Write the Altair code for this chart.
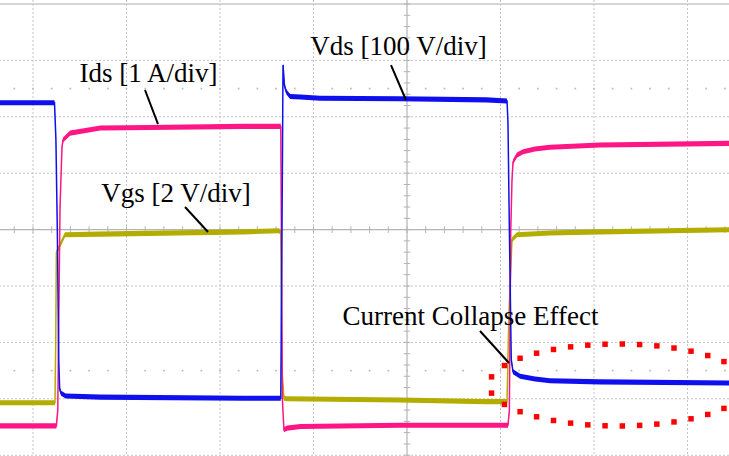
import altair as alt
import pandas as pd
import numpy as np

# ---- time axis in oscilloscope divisions, amplitude in divisions ----
# Vds [100 V/div]  (blue)
t_vds = [-4.40, -3.77, -3.755, -3.74, -3.725, -3.715, -3.70, -3.65, -3.28, -1.75, -1.35,
         -1.335, -1.326, -1.31, -1.29, -1.25, -1.14, -0.93, -0.08, 0.85, 1.07,
         1.08, 1.095, 1.115, 1.134, 1.21, 1.37, 1.53, 2.06, 3.50]
v_vds = [2.25, 2.25, 1.6, 0.0, -2.3, -2.82, -2.90, -2.95, -2.97, -2.99, -2.99,
         0.5, 2.92, 2.55, 2.44, 2.36, 2.35, 2.33, 2.32, 2.30, 2.28,
         1.9, 0.0, -2.30, -2.52, -2.60, -2.65, -2.68, -2.70, -2.72]

# Ids [1 A/div]  (pink)
t_ids = [-4.40, -3.75, -3.735, -3.711, -3.690, -3.679, -3.604, -3.39, -3.28, -2.75, -1.75,
         -1.35, -1.333, -1.316, -1.283, -1.14, -0.08, 1.08, 1.095, 1.11, 1.123,
         1.134, 1.176, 1.241, 1.369, 1.529, 2.064, 3.50]
v_ids = [-3.48, -3.48, -3.20, 0.40, 1.46, 1.59, 1.71, 1.77, 1.80, 1.81, 1.83,
         1.83, -3.0, -3.55, -3.52, -3.49, -3.47, -3.47, -3.2, 0.0, 0.88,
         1.20, 1.32, 1.38, 1.43, 1.46, 1.50, 1.53]

# Vgs [2 V/div]  (olive)
t_vgs = [-4.40, -3.765, -3.757, -3.750, -3.701, -3.658, -3.283, -1.75, -1.37, -1.35,
         -1.337, -1.316, -1.29, -0.08, 0.85, 1.07, 1.09, 1.123, 1.176, 1.529, 2.064, 3.50]
v_vgs = [-3.07, -3.07, -2.00, -0.41, -0.24, -0.09, -0.08, -0.04, -0.02, -0.05,
         -2.50, -2.99, -3.00, -3.02, -3.05, -3.05, -1.50, -0.18, -0.09, -0.06, -0.04, 0.00]

series_names = ["Vgs", "Ids", "Vds"]
series_colors = ["#b3ad00", "#ff1685", "#1010ee"]

# grid / axes
grid_t = [-4, -3, -2, -1, 1, 2, 3]
grid_v = [-4, -3, -2, -1, 1, 2, 3]
border_v = [4]
minor_step = 0.2
marker_rows = [-2.5, 2.5]

# annotations
labels = ["Ids [1 A/div]", "Vds [100 V/div]", "Vgs [2 V/div]", "Current Collapse Effect"]
label_t = [-2.765, -0.091, -2.471, 0.679]
label_v = [2.617, 3.096, 0.489, -1.691]
ptr_t1 = [-2.802, -0.171, -2.374, 0.781]
ptr_v1 = [2.475, 2.918, 0.401, -1.798]
ptr_t2 = [-2.663, -0.011, -2.128, 1.091]
ptr_v2 = [1.872, 2.298, -0.043, -2.365]

ell_center_t, ell_center_v = 2.257, -2.755
ell_rx_t, ell_ry_v = 1.380, 0.727
PX_T, PX_V = 93.5, 56.4  # pixels per division (for dot spacing only)

x_scale = alt.Scale(domain=[-4.353, 3.444], nice=False, zero=False)
y_scale = alt.Scale(domain=[-4.014, 4.071], nice=False, zero=False)
X = lambda f: alt.X(f, type="quantitative", scale=x_scale, axis=None)
Y = lambda f: alt.Y(f, type="quantitative", scale=y_scale, axis=None)

traces = pd.concat([
    pd.DataFrame({"t": t_vgs, "v": v_vgs, "series": "Vgs", "ord": 0}),
    pd.DataFrame({"t": t_ids, "v": v_ids, "series": "Ids", "ord": 1}),
    pd.DataFrame({"t": t_vds, "v": v_vds, "series": "Vds", "ord": 2}),
], ignore_index=True)

color = alt.Color("series:N", scale=alt.Scale(domain=series_names, range=series_colors), legend=None)

gray = "#c4c4c4"
vgrid = alt.Chart(pd.DataFrame({"t": grid_t})).mark_rule(
    color=gray, strokeDash=[2, 2], strokeWidth=1).encode(x=X("t"))
hgrid = alt.Chart(pd.DataFrame({"v": grid_v})).mark_rule(
    color=gray, strokeDash=[2, 2], strokeWidth=1).encode(y=Y("v"))
border = alt.Chart(pd.DataFrame({"v": border_v})).mark_rule(
    color="#c8c8c8", strokeWidth=1.5).encode(y=Y("v"))
center_v = alt.Chart(pd.DataFrame({"t": [0]})).mark_rule(
    color="#b4b4b4", strokeWidth=1.2).encode(x=X("t"))
center_h = alt.Chart(pd.DataFrame({"v": [0]})).mark_rule(
    color="#b4b4b4", strokeWidth=1.2).encode(y=Y("v"))

tt = np.round(np.arange(-4.4, 3.5, minor_step), 3)
vv = np.round(np.arange(-4.0, 4.01, minor_step), 3)
xticks = alt.Chart(pd.DataFrame({"t": tt, "lo": -0.06, "hi": 0.06})).mark_rule(
    color="#b4b4b4", strokeWidth=1).encode(x=X("t"), y=Y("lo"), y2="hi")
yticks = alt.Chart(pd.DataFrame({"v": vv, "lo": -0.035, "hi": 0.035})).mark_rule(
    color="#b4b4b4", strokeWidth=1).encode(y=Y("v"), x=X("lo"), x2="hi")
dots_df = pd.DataFrame([(t, r) for r in marker_rows for t in tt], columns=["t", "v"])
dots = alt.Chart(dots_df).mark_square(size=3, color="#bdbdbd", opacity=1).encode(x=X("t"), y=Y("v"))

band = alt.Chart(traces).transform_calculate(
    lo="datum.v - 0.045", hi="datum.v + 0.045"
).mark_area(opacity=1, interpolate="linear").encode(
    x=X("t"), y=Y("lo"), y2="hi", color=color, order="ord:Q")
lines = alt.Chart(traces).mark_line(strokeWidth=1.5).encode(
    x=X("t"), y=Y("v"), color=color, detail="series:N")

band_layers = []
line_layers = []
for name in series_names:
    d = traces[traces.series == name]
    band_layers.append(alt.Chart(d).transform_calculate(
        lo="datum.v - 0.045", hi="datum.v + 0.045"
    ).mark_area(opacity=1).encode(x=X("t"), y=Y("lo"), y2="hi", color=color))
    line_layers.append(alt.Chart(d).mark_line(strokeWidth=1.5).encode(
        x=X("t"), y=Y("v"), color=color))

ptr = alt.Chart(pd.DataFrame({"t1": ptr_t1, "v1": ptr_v1, "t2": ptr_t2, "v2": ptr_v2})).mark_rule(
    color="black", strokeWidth=2).encode(x=X("t1"), y=Y("v1"), x2="t2", y2="v2")
text = alt.Chart(pd.DataFrame({"t": label_t, "v": label_v, "label": labels})).mark_text(
    font="Liberation Serif", fontSize=27, color="black", align="center", baseline="alphabetic"
).encode(x=X("t"), y=Y("v"), text="label:N")

# red dotted ellipse (equal spacing along its drawn outline)
th = np.linspace(0, 2 * np.pi, 2001)
px = ell_rx_t * PX_T * np.cos(th)
py = ell_ry_v * PX_V * np.sin(th)
s = np.concatenate([[0], np.cumsum(np.hypot(np.diff(px), np.diff(py)))])
n = int(round(s[-1] / 17.5))
targets = np.arange(n) * s[-1] / n
ths = np.interp(targets, s, th)
ell_df = pd.DataFrame({"t": ell_center_t + ell_rx_t * np.cos(ths),
                       "v": ell_center_v + ell_ry_v * np.sin(ths)})
ellipse = alt.Chart(ell_df).mark_square(size=30, color="#ff0000", opacity=1).encode(x=X("t"), y=Y("v"))

chart = alt.layer(
    vgrid, hgrid, border, center_v, center_h, xticks, yticks, dots,
    *band_layers, *line_layers, ptr, text, ellipse
).properties(
    width=729, height=456, padding=0, autosize=alt.AutoSizeParams(type="none"),
    background="white"
).configure_view(strokeWidth=0)

chart.save("out.html", embed_options={"renderer": "svg", "actions": False})
